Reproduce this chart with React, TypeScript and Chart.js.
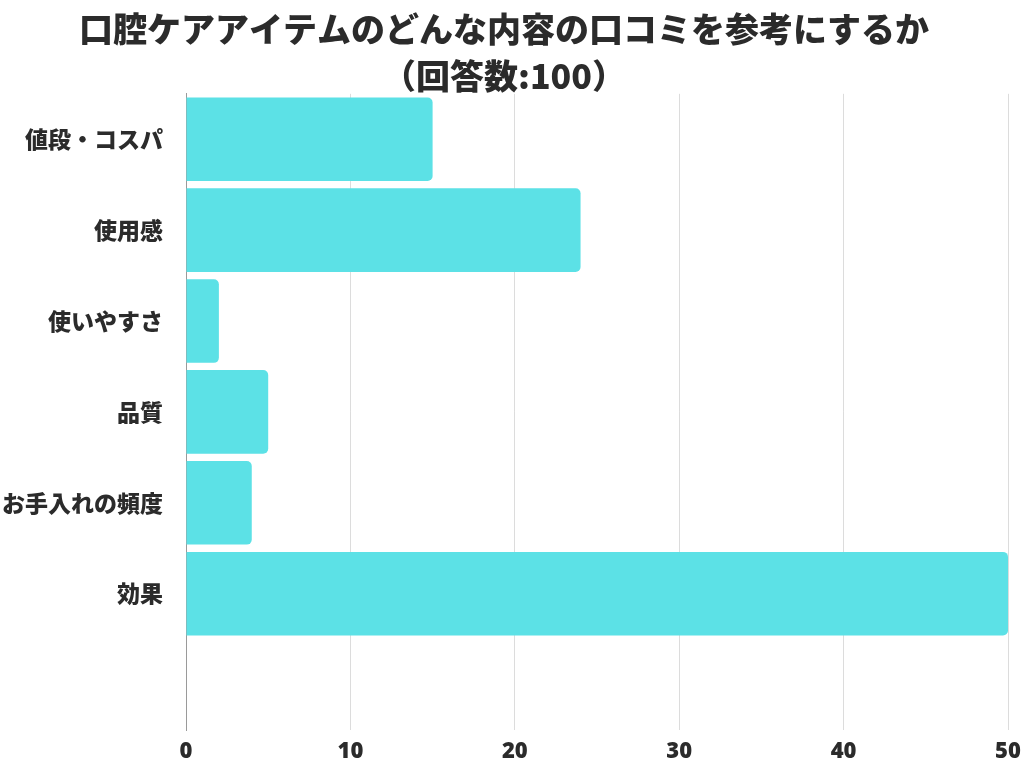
import React, { useEffect, useRef } from "react";
import { Chart, registerables } from "chart.js";

Chart.register(...registerables);

const titleLines = ["口腔ケアアイテムのどんな内容の口コミを参考にするか", "（回答数:100）"];
const categories = ["値段・コスパ", "使用感", "使いやすさ", "品質", "お手入れの頻度", "効果", ""];
const values: (number | null)[] = [15, 24, 2, 5, 4, 50, null];
const xMin = 0;
const xMax = 50;
const xStep = 10;

export default function App() {
  const ref = useRef<HTMLCanvasElement | null>(null);
  useEffect(() => {
    if (!ref.current) return;
    const chart = new Chart(ref.current, {
      type: "bar",
      data: {
        labels: categories,
        datasets: [
          {
            data: values,
            backgroundColor: "#5CE1E6",
            borderRadius: 5,
            borderSkipped: "start",
            barPercentage: 0.92,
            categoryPercentage: 1,
          },
        ],
      },
      options: {
        indexAxis: "y",
        animation: false,
        responsive: true,
        maintainAspectRatio: false,
        layout: { padding: { left: 0, right: 16, top: 0, bottom: 0 } },
        plugins: {
          legend: { display: false },
          tooltip: { enabled: false },
          title: {
            display: true,
            text: titleLines,
            color: "#2b2b2b",
            font: { family: "'Noto Sans CJK JP'", size: 34, weight: "900", lineHeight: 1.38 },
            padding: { top: 5.5, bottom: -5.5 },
          },
        },
        scales: {
          x: {
            min: xMin,
            max: xMax,
            afterFit: (scale: any) => {
              scale.height = 38;
              scale.paddingRight = 16;
              scale.paddingLeft = 0;
            },
            ticks: {
              stepSize: xStep,
              color: "#2b2b2b",
              font: { family: "'Open Sans'", size: 22, weight: "800" },
              padding: 9,
            },
            grid: { color: "#dcdcdc", drawTicks: false, lineWidth: 1 },
            border: { display: false },
          },
          y: {
            afterFit: (scale: any) => {
              scale.width = 186;
            },
            ticks: {
              color: "#2b2b2b",
              font: { family: "'Noto Sans CJK JP'", size: 23, weight: "900" },
              padding: 23,
            },
            grid: { display: false, drawTicks: false },
            border: { display: true, color: "#9a9a9a", width: 1 },
          },
        },
      },
    });
    return () => chart.destroy();
  }, []);
  return (
    <div style={{ position: "fixed", left: 0, top: 0, width: 1024, height: 768, background: "#fff" }}>
      <canvas ref={ref} />
    </div>
  );
}
